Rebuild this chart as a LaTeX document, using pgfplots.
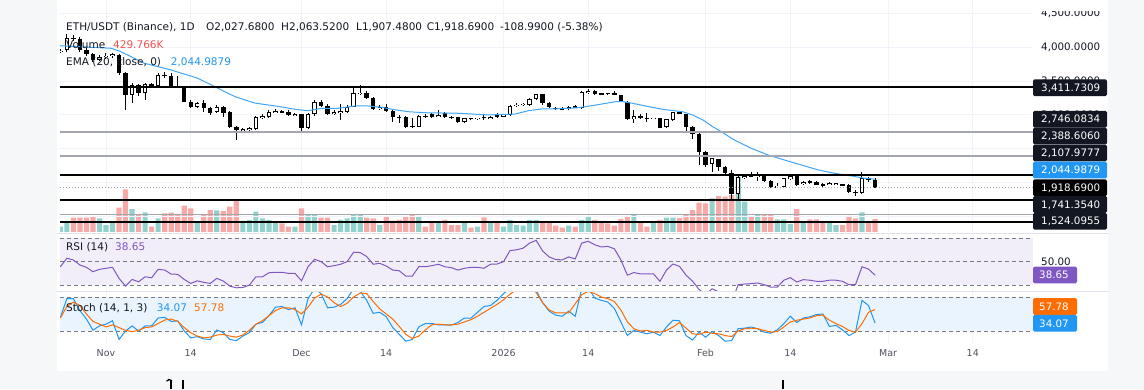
\documentclass[border=0pt]{standalone}
\usepackage{pgfplots}
\pgfplotsset{compat=1.18}
\usepackage{pgfplotstable}
\usepackage{fontspec}
\setmainfont{DejaVu Sans}
\definecolor{tvtext}{HTML}{131722}
\definecolor{axtext}{HTML}{50535E}
\definecolor{outerbg}{HTML}{F6F7F9}
\definecolor{gridc}{HTML}{F0F3FA}
\definecolor{volred}{HTML}{F7A9A7}
\definecolor{volgreen}{HTML}{92D2CC}
\definecolor{emac}{HTML}{42A5F5}
\definecolor{rsic}{HTML}{7E57C2}
\definecolor{rsibg}{HTML}{F2EEF9}
\definecolor{stk}{HTML}{2196F3}
\definecolor{std}{HTML}{FF6D00}
\definecolor{stbg}{HTML}{E9F4FE}
\definecolor{lvlgray}{HTML}{A3A6AF}
\definecolor{bandc}{HTML}{787B86}
\definecolor{sepc}{HTML}{E0E3EB}
\definecolor{labbg}{HTML}{131722}
\definecolor{redtxt}{HTML}{EF5350}

\pgfplotstableread{
d o h l c v
-7 3931 3975 3916 3946 175
-6 3960 4198 3931 4138 298
-5 4138 4183 4094 4124 473
-4 4124 4153 3931 3960 473
-3 3960 3990 3871 3901 473
-2 3901 3916 3782 3812 506
-1 3812 3886 3797 3857 453
0 3857 3916 3827 3871 231
1 3871 3916 3842 3901 341
2 3886 3901 3590 3619 803
3 3619 3634 3071 3293 1412
4 3293 3471 3174 3441 760
5 3441 3456 3278 3323 585
6 3323 3471 3219 3456 651
7 3456 3471 3397 3426 175
8 3426 3619 3397 3590 453
9 3590 3634 3545 3575 618
10 3575 3619 3397 3416 638
11 3419 3575 3397 3404 585
12 3404 3426 3189 3194 869
13 3194 3219 3100 3115 784
14 3115 3189 3100 3174 364
15 3174 3219 3041 3100 562
16 3100 3115 2996 3026 727
17 3045 3145 3026 3115 717
18 3115 3130 2967 3022 694
19 3045 3056 2804 2823 836
20 2823 2833 2626 2774 1035
21 2774 2804 2759 2781 364
22 2781 2818 2759 2804 397
23 2789 2982 2774 2967 671
24 2967 3011 2937 2974 453
25 2974 3071 2952 3045 397
26 3041 3085 3026 3048 341
27 3048 3071 3026 3041 288
28 3041 3071 2982 2997 175
29 2997 3026 2982 3004 175
30 3004 3011 2749 2799 784
31 2799 3026 2789 3007 562
32 3007 3219 2982 3194 562
33 3194 3219 3115 3134 473
34 3134 3159 2997 3011 473
35 3011 3071 2997 3045 231
36 3041 3160 2922 3045 397
37 3041 3145 3026 3119 453
38 3119 3392 3115 3318 562
39 3318 3441 3293 3327 562
40 3327 3352 3234 3244 473
41 3244 3263 3071 3085 453
42 3085 3145 3071 3119 231
43 3119 3160 3041 3056 490
44 3056 3071 2897 2962 380
45 2967 2997 2878 2962 397
46 2967 2982 2804 2823 506
47 2833 2952 2804 2823 585
48 2823 2997 2818 2982 529
49 2982 3011 2952 2974 175
50 3007 3026 2952 2971 321
51 2971 3071 2967 2997 321
52 3022 3041 2952 2962 397
53 2967 2982 2930 2962 231
54 2967 2974 2885 2897 231
55 2897 2952 2885 2947 321
56 2947 2952 2937 2943 142
57 2943 2952 2937 2947 175
58 2967 3004 2922 2960 486
59 2937 2982 2930 2971 321
60 2990 3026 2952 2985 321
61 2971 3011 2967 3007 175
62 2997 3145 2982 3134 397
63 3134 3174 3115 3145 231
64 3145 3167 3137 3160 208
65 3145 3248 3130 3229 397
66 3229 3315 3219 3303 397
67 3303 3308 3145 3170 321
68 3170 3189 3100 3119 321
69 3104 3115 3071 3085 208
70 3096 3108 3078 3085 142
71 3085 3130 3071 3119 208
72 3119 3145 3100 3115 175
73 3096 3357 3085 3342 397
74 3318 3382 3308 3357 506
75 3357 3367 3293 3308 397
76 3318 3330 3300 3308 321
77 3318 3330 3300 3314 288
78 3318 3345 3293 3312 208
79 3293 3300 3182 3194 430
80 3194 3204 2922 2932 506
81 2932 3071 2878 2982 585
82 2982 3011 2930 2947 321
83 2952 3026 2893 2947 175
84 2945 2959 2937 2952 341
85 2947 2952 2797 2808 397
86 2823 2937 2811 2932 473
87 2922 3048 2907 3037 473
88 3037 3048 3004 3011 463
89 3011 3018 2749 2823 562
90 2823 2833 2640 2715 727
91 2715 2729 2255 2452 969
92 2452 2462 2225 2255 949
93 2270 2366 2156 2354 1114
94 2339 2351 2166 2220 1190
95 2219 2240 2092 2141 1167
96 2141 2181 1751 1825 1223
97 1825 2092 1736 2072 1828
98 2058 2121 2040 2096 1002
99 2102 2151 2077 2096 506
100 2080 2151 2018 2090 585
101 2092 2099 2010 2022 562
102 2022 2033 1921 1933 562
103 1933 1988 1921 1939 420
104 1933 2062 1929 2058 420
105 2043 2099 2033 2092 264
106 2092 2099 1943 1958 760
107 1969 2018 1958 2008 364
108 2008 2033 1973 2003 420
109 2008 2018 1951 1958 420
110 1963 1988 1936 1958 364
111 1963 2003 1958 1984 364
112 1969 1988 1958 1984 231
113 1969 1973 1951 1958 231
114 1958 1966 1847 1859 529
115 1859 1884 1795 1844 453
116 1844 2156 1832 2058 651
117 2058 2077 2010 2028 364
118 2027.68 2063.52 1907.48 1918.69 429.766
}\candles

\pgfplotstableread{
d ema
-7.1 4024
0.8 3986
2.3 3935
5.9 3763
10.0 3664
14.1 3541
17.2 3392
19.8 3268
22.8 3174
26.7 3120
29.0 3081
31.0 3060
33.1 3096
35.6 3096
38.2 3130
40.2 3130
42.3 3111
43.9 3081
46.4 3045
49.0 3030
54.1 3022
58.7 2997
62.8 3011
64.8 3060
66.9 3086
68.5 3086
71.0 3096
72.5 3105
75.2 3145
78.2 3194
79.3 3194
80.8 3170
82.8 3130
85.4 3081
88.5 3045
90.0 2997
91.6 2922
93.1 2823
94.4 2749
96.4 2626
99.0 2503
101.6 2403
104.1 2329
106.7 2255
109.3 2181
111.8 2132
114.4 2092
116.4 2058
118 2045
}\ema

\pgfplotstableread{
d v
-7 45.7
-6 52.9
-5 51.4
-4 47.2
-3 45.2
-2 41.5
-1 43.5
0 44.4
1 45.2
2 35.9
3 29.3
4 35.0
5 33.0
6 37.2
7 36.4
8 43.5
9 42.9
10 39.5
11 39.3
12 35.0
13 31.6
14 33.8
15 32.5
16 31.6
17 35.9
18 33.6
19 29.3
20 27.9
21 28.2
22 30.2
23 37.2
24 37.2
25 40.6
26 41.0
27 41.0
28 40.1
29 40.1
30 33.8
31 45.7
32 52.0
33 50.0
34 45.7
35 46.6
36 47.8
37 50.0
38 58.0
39 57.7
40 54.3
41 47.8
42 48.6
43 46.3
44 42.9
45 42.3
46 37.8
47 37.8
48 45.7
49 45.7
50 46.6
51 47.8
52 45.7
53 44.9
54 42.9
55 44.4
56 45.2
57 45.2
58 44.4
59 47.8
60 48.0
61 50.0
62 59.4
63 60.0
64 61.4
65 65.7
66 68.0
67 59.0
68 54.0
69 51.8
70 51.5
71 54.0
72 52.3
73 65.7
74 67.2
75 64.3
76 62.4
77 62.9
78 60.9
79 51.5
80 38.6
81 40.8
82 39.7
83 39.7
84 39.7
85 33.4
86 42.9
87 48.0
88 46.0
89 38.6
90 33.5
91 26.5
92 22
93 27.1
94 24.5
95 20
96 16
97 30.5
98 31.1
99 31.4
100 32.0
101 30.5
102 28.5
103 28.5
104 34.3
105 36.5
106 32.8
107 34.8
108 34.3
109 33.4
110 33.4
111 34.3
112 34.3
113 33.4
114 30.5
115 30.5
116 45.7
117 43.7
118 38.65
}\rsi

\pgfplotstableread{
d k dd
-7 44.0 42.9
-6 77.1 63.2
-5 77.1 71.0
-4 56.0 65.0
-3 41.1 50.1
-2 21.3 36.8
-1 29.0 32.1
0 32.1 27.2
1 38.0 30.8
2 5 26.0
3 20.0 21.3
4 29.0 18.7
5 20.0 21.3
6 29.0 26.0
7 29.0 27.2
8 42.9 33.2
9 44.0 39.3
10 36.8 41.1
11 38.0 36.8
12 20.0 26.0
13 7.9 17.0
14 10 11.0
15 6 7.9
16 5 9.2
17 21.8 12.8
18 17.0 14.1
19 5 11.0
20 3 9.2
21 11 12.8
22 17.0 21.3
23 32.1 32.1
24 35.0 38.0
25 47.0 47.0
26 62.0 56.0
27 63.2 60.9
28 57.8 60.9
29 60.9 58
30 30.8 50
31 77.1 62
32 95 78
33 86 85
34 60.9 80
35 62.0 70
36 66.8 63
37 77.1 69
38 95 80
39 90 87
40 74.1 86
41 51.2 72
42 53.0 59
43 45.2 50
44 26.0 41
45 14.1 28
46 2 14
47 5 7
48 27.2 11
49 33.2 22
50 33.2 31
51 30.8 32
52 30.8 31
53 30.3 31
54 35.0 32
55 42.9 36
56 42.9 40
57 53.0 46
58 63.2 53
59 65.0 60
60 74.1 67
61 86 75
62 95 85
63 98 93
64 98 97
65 99 98
66 92 88
67 70 70
68 55 57
69 48 52
70 46 52
71 55 52
72 46 68
73 95 84
74 96 90
75 78 86
76 74 80
77 71 77
78 60 72
79 36 57
80 12 36
81 21 24
82 18 20
83 15 21
84 18 18
85 12 18
86 27 21
87 39 27
88 38 35
89 12 25
90 4 15
91 18 14
92 9 18
93 19 16
94 12 15
95 2 12
96 3 10
97 24 20
98 25 24
99 27 25
100 24 24
101 18 21
102 16 18
103 22 19
104 33 27
105 46 36
106 35 39
107 43 41
108 45 43
109 49 47
110 50 48
111 28 39
112 30 33
113 22 28
114 12 21
115 18 18
116 74 33
117 65 53
118 34.07 57.78
}\stoch

\newcommand{\lf}{\fontsize{10.5}{12}\selectfont}
\newcommand{\scf}{\fontsize{10.3}{12}\selectfont}
\newcommand{\pbox}[3]{%
  \fill[#1, rounded corners=1.5pt] (1033,{389-#2-8.4}) rectangle (1107,{389-#2+8.4});
  \node[anchor=base west, inner sep=0pt, text=white, font=\scf] at (1041,{389-#2-3.7}) {#3};}
\newcommand{\smbox}[3]{%
  \fill[#1, rounded corners=1.5pt] (1033,{389-#2-8.4}) rectangle (1077,{389-#2+8.4});
  \node[anchor=base west, inner sep=0pt, text=white, font=\scf] at (1039,{389-#2-3.7}) {#3};}
\newcommand{\gtick}[2]{%
  \node[anchor=base west, inner sep=0pt, text=tvtext, font=\scf] at (1041,{389-#1-3.7}) {#2};}

\pgfplotsset{
  panel/.style={scale only axis, width=973pt, xmin=-7.058, xmax=142.24,
    anchor=south west, axis line style={draw=none}, major tick length=0pt,
    xtick={0,13,30,43,61,74,92,105,120,133}, xticklabels={}, yticklabels={},
    major grid style={draw=gridc, line width=0.8pt}},
  lvl/.style={forget plot, line width=#1},
  wk/.style={draw=none, mark=none, forget plot,
    error bars/y dir=both, error bars/y explicit, error bars/error mark=none},
}

\begin{document}
\begin{tikzpicture}[x=1pt,y=1pt]
\useasboundingbox (0,0) rectangle (1144,389);
\clip (0,0) rectangle (1144,389);
\fill[outerbg] (0,0) rectangle (1144,389);
\fill[white] (57,18) rectangle (1108,389);

% ---------- volume ----------
\begin{axis}[panel, at={(60pt,157pt)}, height=232pt, ymin=0, ymax=7670,
  ytick=\empty, xmajorgrids]
\addplot[ybar, bar width=5.2pt, bar shift=0pt, fill=volgreen, draw=none,
  restrict expr to domain={\thisrow{c}-\thisrow{o}}{0:1000000}]
  table[x=d, y=v]{\candles};
\addplot[ybar, bar width=5.2pt, bar shift=0pt, fill=volred, draw=none,
  restrict expr to domain={\thisrow{c}-\thisrow{o}}{-1000000:0}]
  table[x=d, y=v]{\candles};
\end{axis}

% ---------- price ----------
\begin{axis}[panel, at={(60pt,157pt)}, height=232pt, ymin=1261.3, ymax=4701.9,
  ytick={1500,2000,2500,3000,3500,4000,4500}, ymajorgrids]
\addplot[wk, error bars/error bar style={draw=black, line width=1pt}]
  table[x=d, y expr={(\thisrow{h}+\thisrow{l})/2}, y error expr={(\thisrow{h}-\thisrow{l})/2}]{\candles};
\addplot[wk, error bars/error bar style={draw=black, line width=4.4pt}]
  table[x=d, y expr={(\thisrow{o}+\thisrow{c})/2}, y error expr={max(abs(\thisrow{c}-\thisrow{o})/2,6)}]{\candles};
\addplot[wk, restrict expr to domain={\thisrow{c}-\thisrow{o}}{0:1000000},
  error bars/error bar style={draw=white, line width=2.6pt}]
  table[x=d, y expr={(\thisrow{o}+\thisrow{c})/2}, y error expr={max(abs(\thisrow{c}-\thisrow{o})/2-13,0.5)}]{\candles};
\addplot[emac, line width=1pt, mark=none, forget plot] table[x=d, y=ema]{\ema};
\addplot[lvl=2pt, black] coordinates {(-7.058,3411.73) (142.24,3411.73)};
\addplot[lvl=1.5pt, lvlgray] coordinates {(-7.058,2746.08) (142.24,2746.08)};
\addplot[lvl=1.5pt, lvlgray] coordinates {(-7.058,2388.61) (142.24,2388.61)};
\addplot[lvl=2pt, black] coordinates {(-7.058,2107.98) (142.24,2107.98)};
\addplot[lvl=1pt, lvlgray, dash pattern=on 1pt off 2pt] coordinates {(-7.058,1918.69) (142.24,1918.69)};
\addplot[lvl=2pt, black] coordinates {(-7.058,1741.35) (142.24,1741.35)};
\addplot[lvl=1.5pt, lvlgray] coordinates {(-7.058,1524.10) (142.24,1524.10)};
\addplot[lvl=2pt, black] coordinates {(-7.058,1403) (142.24,1403)};
\end{axis}

% ---------- RSI ----------
\begin{axis}[panel, at={(60pt,98pt)}, height=57.5pt, ymin=25.2, ymax=73.8,
  ytick=\empty, xmajorgrids]
\addplot[fill=rsibg, draw=none, forget plot] coordinates {(-7.058,30) (142.24,30) (142.24,70) (-7.058,70)} -- cycle;
\addplot[lvl=0.8pt, bandc, dash pattern=on 3.5pt off 3.5pt] coordinates {(-7.058,70) (142.24,70)};
\addplot[lvl=0.8pt, bandc, dash pattern=on 3.5pt off 3.5pt] coordinates {(-7.058,50) (142.24,50)};
\addplot[lvl=0.8pt, bandc, dash pattern=on 3.5pt off 3.5pt] coordinates {(-7.058,30) (142.24,30)};
\addplot[rsic, line width=1pt, mark=none] table[x=d, y=v]{\rsi};
\end{axis}

% ---------- Stoch ----------
\begin{axis}[panel, at={(60pt,46pt)}, height=51pt, ymin=-1.2, ymax=88.8,
  ytick=\empty, xmajorgrids,
  xticklabels={Nov,14,Dec,14,2026,14,Feb,14,Mar,14},
  xticklabel style={font=\fontsize{9.5}{11}\selectfont, text=axtext, anchor=center, yshift=-10pt}]
\addplot[fill=stbg, draw=none, forget plot] coordinates {(-7.058,20) (142.24,20) (142.24,80) (-7.058,80)} -- cycle;
\addplot[lvl=0.8pt, bandc, dash pattern=on 3.5pt off 3.5pt] coordinates {(-7.058,80) (142.24,80)};
\addplot[lvl=0.8pt, bandc, dash pattern=on 3.5pt off 3.5pt] coordinates {(-7.058,20) (142.24,20)};
\addplot[stk, line width=1pt, mark=none] table[x=d, y=k]{\stoch};
\addplot[std, line width=1pt, mark=none] table[x=d, y=dd]{\stoch};
\end{axis}

\draw[sepc, line width=1pt] (57,156) -- (1108,156);
\draw[sepc, line width=1pt] (57,97.5) -- (1108,97.5);

\begin{scope}
\clip (1033,0) rectangle (1108,{389-11.7});
\gtick{13.3}{4,500.0000}
\end{scope}
\gtick{47.0}{4,000.0000}
\begin{scope}
\clip (1033,{389-79.4}) rectangle (1108,{389-60});
\gtick{80.7}{3,500.0000}
\end{scope}
\begin{scope}
\clip (1033,{389-110.9}) rectangle (1108,{389-97});
\gtick{114.4}{3,000.0000}
\end{scope}
\pbox{labbg}{87.8}{3,411.7309}
\pbox{labbg}{119.3}{2,746.0834}
\pbox{labbg}{136.1}{2,388.6060}
\pbox{labbg}{153.0}{2,107.9777}
\pbox{stk}{170.0}{2,044.9879}
\pbox{black}{187.7}{1,918.6900}
\pbox{labbg}{204.4}{1,741.3540}
\pbox{labbg}{221.2}{1,524.0955}
\gtick{262}{50.00}
\smbox{rsic}{275}{38.65}
\smbox{std}{306.5}{57.78}
\smbox{stk}{323.3}{34.07}

\fill[black] (169.5,0) rectangle (172,8);
\fill[black] (166,8) .. controls (167,10.5) and (170,11) .. (172,9) -- (172,7.5) .. controls (170,9) and (168,9) .. (167,7.5) -- cycle;
\fill[black] (181.5,0) rectangle (184,9);
\fill[black] (781.5,0) rectangle (784,9);

\begin{scope}[every node/.style={anchor=base west, inner sep=0pt, font=\lf}]
\node[text=tvtext] at (66,358.4) {ETH/USDT (Binance), 1D};
\node[text=tvtext] at (206,358.4) {O2,027.6800};
\node[text=tvtext] at (281,358.4) {H2,063.5200};
\node[text=tvtext] at (356,358.4) {L1,907.4800};
\node[text=tvtext] at (426.7,358.4) {C1,918.6900};
\node[text=tvtext] at (500,358.4) {-108.9900 (-5.38\%)};
\node[text=tvtext] at (66,340) {Volume};
\node[text=redtxt] at (113,340) {429.766K};
\node[text=tvtext] at (66,323) {EMA (20, close, 0)};
\node[text=stk] at (170.7,323) {2,044.9879};
\node[text=tvtext] at (66,138.3) {RSI (14)};
\node[text=rsic] at (115,138.3) {38.65};
\node[text=tvtext] at (66,77.3) {Stoch (14, 1, 3)};
\node[text=stk] at (156.7,77.3) {34.07};
\node[text=std] at (194,77.3) {57.78};
\end{scope}
\end{tikzpicture}
\end{document}
